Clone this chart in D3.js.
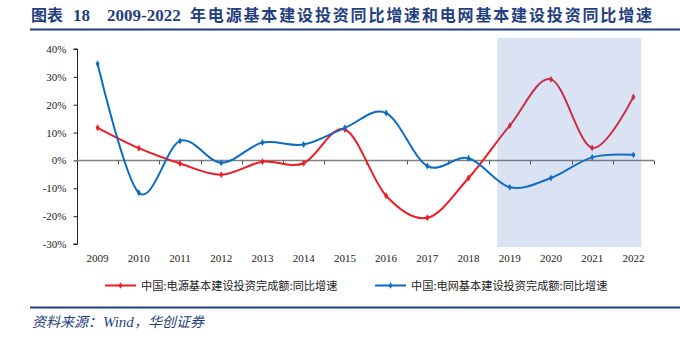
<!DOCTYPE html>
<html>
<head>
<meta charset="utf-8">
<script src="https://cdn.jsdelivr.net/npm/d3@7.9.0/dist/d3.min.js"></script>
<style>
  body { margin: 0; background: #fff; }
  svg { display: block; }
</style>
</head>
<body>
<svg width="680" height="339"></svg>
<script>
// Years on the category axis
const years = ["2009", "2010", "2011", "2012", "2013", "2014", "2015",
  "2016", "2017", "2018", "2019", "2020", "2021", "2022"];

// YoY growth of power-source capital construction investment (%)
const powerSource = [11.7, 4.4, -1.1, -5.1, -0.5, -1.0, 11.1,
  -12.7, -20.6, -6.3, 12.5, 29.1, 4.5, 22.8];

// YoY growth of power-grid capital construction investment (%)
const powerGrid = [34.7, -11.6, 7.0, -0.8, 6.4, 5.7, 11.7,
  17.0, -2.0, 0.8, -9.6, -6.3, 1.1, 2.0];

const yTicks = [40, 30, 20, 10, 0, -10, -20, -30];
const shadedYears = ["2019", "2022"];

const seriesNames = ["中国:电源基本建设投资完成额:同比增速", "中国:电网基本建设投资完成额:同比增速"];
const seriesColors = ["#ee1c25", "#0b6cc4"];

const svg = d3.select("svg");
const serif = "'Liberation Serif', 'Times New Roman', serif";
const cjk = "'Noto Sans CJK SC', sans-serif";
const navy = "#1f3f80";

// Title and rules
const title = svg.append("g")
  .attr("fill", navy)
  .attr("font-weight", "bold");
title.append("text").attr("x", 31).attr("y", 21)
  .attr("font-family", cjk).attr("font-size", 16).text("图表");
title.append("text").attr("x", 73).attr("y", 21)
  .attr("font-family", serif).attr("font-size", 17).text("18");
title.append("text").attr("x", 107).attr("y", 21)
  .attr("font-family", serif).attr("font-size", 17).text("2009-2022");
title.append("text").attr("x", 190).attr("y", 21)
  .attr("font-family", cjk).attr("font-size", 16)
  .attr("textLength", 462).attr("lengthAdjust", "spacing")
  .text("年电源基本建设投资同比增速和电网基本建设投资同比增速");

svg.append("line").attr("x1", 30).attr("x2", 680).attr("y1", 29.5).attr("y2", 29.5)
  .attr("stroke", navy).attr("stroke-width", 2);
svg.append("line").attr("x1", 30).attr("x2", 680).attr("y1", 307.5).attr("y2", 307.5)
  .attr("stroke", navy).attr("stroke-width", 2);

const source = svg.append("text")
  .attr("y", 327)
  .attr("fill", navy)
  .attr("font-style", "italic")
  .attr("font-size", 14);
source.append("tspan").attr("x", 32).attr("font-family", cjk).text("资料来源：");
source.append("tspan").attr("x", 103).attr("font-family", serif).attr("font-size", 15).text("Wind");
source.append("tspan").attr("x", 134).attr("font-family", cjk).text("，华创证券");

// Scales
const x = d3.scaleBand().domain(years).range([77, 654]);
const y = d3.scaleLinear().domain([-30, 40]).range([244, 49]);
const cx = d => x(d) + x.bandwidth() / 2;

// Y axis
const yAxis = svg.append("g")
  .attr("transform", "translate(77.5,0)")
  .call(d3.axisLeft(y).tickValues(yTicks).tickSize(4).tickFormat(d => d + "%"));
yAxis.select(".domain").attr("stroke", "#222").attr("d", `M-4,${y(40)}H0V${y(-30)}H-4`);
yAxis.selectAll(".tick line").attr("stroke", "#222");
yAxis.selectAll(".tick text")
  .attr("x", -11)
  .attr("font-family", serif).attr("font-size", 11).attr("fill", "#222");

// X axis on zero line, ticks between categories
const xAxis = svg.append("g").attr("transform", `translate(0,${Math.round(y(0)) + 0.5})`);
xAxis.append("line").attr("x1", 77).attr("x2", 654).attr("stroke", "#808080").attr("stroke-width", 1.3);
xAxis.selectAll(".tk").data(years)
  .join("line")
  .attr("x1", d => Math.round(x(d) + x.step()) + 0.5)
  .attr("x2", d => Math.round(x(d) + x.step()) + 0.5)
  .attr("y1", 0).attr("y2", 4)
  .attr("stroke", "#555");

svg.append("g").selectAll("text").data(years).join("text")
  .attr("x", d => cx(d)).attr("y", 262)
  .attr("text-anchor", "middle")
  .attr("font-family", serif).attr("font-size", 11).attr("fill", "#222")
  .text(d => d);

// Smoothed lines with small diamond markers
const line = d3.line()
  .x((d, i) => cx(years[i]))
  .y(d => y(d))
  .curve(d3.curveCardinal.tension(0));

[powerSource, powerGrid].forEach((vals, k) => {
  svg.append("path")
    .attr("d", line(vals))
    .attr("fill", "none")
    .attr("stroke", seriesColors[k])
    .attr("stroke-width", 2);
  svg.append("g").selectAll("path").data(vals).join("path")
    .attr("transform", (d, i) => `translate(${cx(years[i])},${y(d)})`)
    .attr("d", d3.symbol(d3.symbolDiamond, 14))
    .attr("fill", seriesColors[k]);
});

// Highlight band over 2019-2022, drawn as a translucent overlay
const bandLeft = cx(shadedYears[0]) - 12.5;
const bandRight = cx(shadedYears[1]) + 8;
svg.append("rect")
  .attr("x", bandLeft)
  .attr("width", bandRight - bandLeft)
  .attr("y", 38).attr("height", 209)
  .attr("fill", "rgb(68,114,196)")
  .attr("fill-opacity", 0.2);

// Legend
const legendX = [105, 375];
seriesNames.forEach((name, k) => {
  const g = svg.append("g").attr("transform", `translate(${legendX[k]},285.5)`);
  g.append("line").attr("x1", 0).attr("x2", 31)
    .attr("stroke", seriesColors[k]).attr("stroke-width", 2);
  g.append("path").attr("transform", "translate(15.5,0)")
    .attr("d", d3.symbol(d3.symbolDiamond, 12)).attr("fill", seriesColors[k]);
  g.append("text").attr("x", 36).attr("y", 4)
    .attr("font-family", cjk).attr("font-size", 11.2).attr("fill", "#222")
    .text(name);
});
</script>
</body>
</html>
